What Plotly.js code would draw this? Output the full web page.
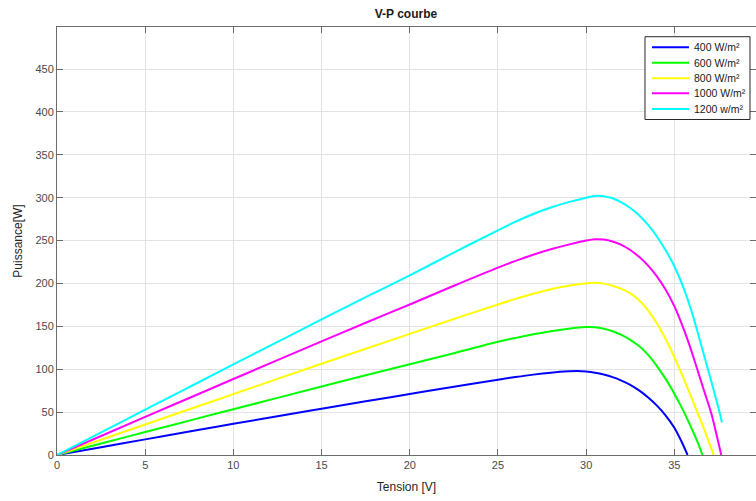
<!DOCTYPE html>
<html>
<head>
<meta charset="utf-8">
<script src="https://cdn.plot.ly/plotly-3.0.1.min.js"></script>
<style>html,body{margin:0;padding:0;background:#fff;}#chart{width:756px;height:501px;}</style>
</head>
<body>
<div id="chart"></div>
<script>
// Series names
const seriesNames = ["400 W/m²", "600 W/m²", "800 W/m²", "1000 W/m²", "1200 w/m²"];
const seriesColors = ["#0000ff", "#00ff00", "#ffff00", "#ff00ff", "#00ffff"];

// Voltage [V] / Power [W] samples
const v400 = [0, 2.5, 5, 7.5, 10, 12.5, 15, 17.5, 20, 22.5, 25, 26, 27, 28, 29, 29.5, 30, 30.5, 31, 31.5, 32, 32.5, 33, 33.5, 34, 34.5, 35, 35.4, 35.75];
const p400 = [0, 9.1, 18.2, 27.3, 36.3, 45.2, 54, 62.6, 71.1, 79.6, 87.8, 90.9, 93.7, 96, 97.6, 98, 97.4, 96, 93.8, 90.8, 86.8, 81.8, 75.3, 67.3, 57.8, 46.3, 31.8, 16, 0];

const v600 = [0, 2.5, 5, 7.5, 10, 12.5, 15, 17.5, 20, 22.5, 25, 26, 27, 28, 29, 30, 30.5, 31, 31.5, 32, 32.5, 33, 33.5, 34, 34.5, 35, 35.5, 36, 36.3, 36.6];
const p600 = [0, 13.4, 26.8, 40.1, 53.4, 66.6, 79.8, 92.9, 105.9, 118.7, 132, 136.5, 140.7, 144.3, 147.3, 149.2, 149, 147.3, 144.3, 140, 134.3, 127, 117, 104, 89, 71.5, 52, 30, 16, 0];

const v800 = [0, 2.5, 5, 7.5, 10, 12.5, 15, 17.5, 20, 22.5, 25, 26, 27, 28, 29, 30, 30.5, 31, 31.5, 32, 32.5, 33, 33.5, 34, 34.5, 35, 35.5, 36, 36.5, 37, 37.23];
const p800 = [0, 17.8, 35.6, 53.3, 71, 88.7, 106.3, 123.8, 141.2, 158.5, 175.5, 182, 188, 193.2, 197.3, 200.2, 200.8, 199.8, 197.3, 193.6, 188.5, 180.5, 169, 154, 135.5, 114, 90.5, 65.5, 40, 13, 0];

const v1000 = [0, 2.5, 5, 7.5, 10, 12.5, 15, 17.5, 20, 22.5, 25, 26, 27, 28, 29, 30, 30.5, 31, 31.5, 32, 32.5, 33, 33.5, 34, 34.5, 35, 35.5, 35.9, 36.3, 36.7, 37.1, 37.4, 37.66];
const p1000 = [0, 22.2, 44.4, 66.5, 88.6, 110.6, 132.5, 154.2, 175.5, 197.3, 218.5, 226.3, 233.5, 239.8, 245.3, 250, 251.5, 251.2, 249, 245, 239, 231, 221, 208.5, 193, 173.5, 148.5, 125.5, 100, 74, 48, 23, 0];

const v1200 = [0, 2.5, 5, 7.5, 10, 12.5, 15, 17.5, 20, 22.5, 25, 26, 27, 28, 29, 30, 30.6, 31, 31.5, 32, 32.5, 33, 33.5, 34, 34.5, 35, 35.5, 36, 36.5, 37, 37.5, 37.7];
const p1200 = [0, 26.4, 52.8, 79.2, 105.6, 131.8, 158, 184, 209.5, 236, 262, 272, 281, 288.5, 294.8, 300, 302.2, 301.8, 299.3, 294.5, 288, 279.5, 268.5, 255, 239, 220, 196, 166, 130, 93, 55, 38];

const volts = [v400, v600, v800, v1000, v1200];
const powers = [p400, p600, p800, p1000, p1200];

const traces = volts.map((v, i) => ({
  x: v,
  y: powers[i],
  type: "scatter",
  mode: "lines",
  name: seriesNames[i],
  showlegend: false,
  line: {color: seriesColors[i], width: 2, shape: "spline", smoothing: 1}
}));

const FONT = "Liberation Sans, Arial, sans-serif";

const axisCommon = {
  showline: true,
  linecolor: "#6b6b6b",
  linewidth: 1,
  mirror: "ticks",
  ticks: "inside",
  ticklen: 6,
  tickcolor: "#6b6b6b",
  tickwidth: 1,
  showgrid: true,
  gridcolor: "#e3e3e3",
  gridwidth: 1,
  zeroline: false,
  tickfont: {family: FONT, size: 11, color: "#4a4a4a"}
};

// Custom MATLAB-style legend (paper coordinates of the plot area)
const legBox = {x0: 0.8412, x1: 0.9914, y0: 0.7839, y1: 0.9773};
const legRowsY = [0.9526, 0.9166, 0.8801, 0.8451, 0.8084];
const legLineX = [0.8512, 0.9041];
const legTextX = 0.9084;

const shapes = [{
  type: "rect", xref: "paper", yref: "paper",
  x0: legBox.x0, x1: legBox.x1, y0: legBox.y0, y1: legBox.y1,
  line: {color: "#262626", width: 1}, fillcolor: "#ffffff", layer: "above"
}];
const annotations = [];
seriesNames.forEach((name, i) => {
  shapes.push({
    type: "line", xref: "paper", yref: "paper",
    x0: legLineX[0], x1: legLineX[1], y0: legRowsY[i], y1: legRowsY[i],
    line: {color: seriesColors[i], width: 2}, layer: "above"
  });
  annotations.push({
    xref: "paper", yref: "paper", x: legTextX, y: legRowsY[i],
    xanchor: "left", yanchor: "middle", showarrow: false,
    text: name, font: {family: FONT, size: 10.5, color: "#1a1a1a"}
  });
});

const layout = {
  width: 756,
  height: 501,
  margin: {l: 57, r: 0, t: 27, b: 46, pad: 0},
  paper_bgcolor: "#ffffff",
  plot_bgcolor: "#ffffff",
  font: {family: FONT, color: "#262626"},
  title: {
    text: "<b>V-P courbe</b>",
    x: 0.537, xanchor: "center",
    y: 0.972, yanchor: "middle",
    font: {family: FONT, size: 12, color: "#1a1a1a"}
  },
  xaxis: Object.assign({}, axisCommon, {
    range: [0, 39.63],
    tick0: 0, dtick: 5,
    title: {text: "Tension [V]", standoff: 12, font: {family: FONT, size: 12, color: "#262626"}}
  }),
  yaxis: Object.assign({}, axisCommon, {
    range: [0, 499],
    tick0: 0, dtick: 50,
    title: {text: "Puissance[W]", standoff: 10, font: {family: FONT, size: 12, color: "#262626"}}
  }),
  shapes: shapes,
  annotations: annotations,
  showlegend: false
};

Plotly.newPlot("chart", traces, layout, {displayModeBar: false, staticPlot: true});
</script>
</body>
</html>
